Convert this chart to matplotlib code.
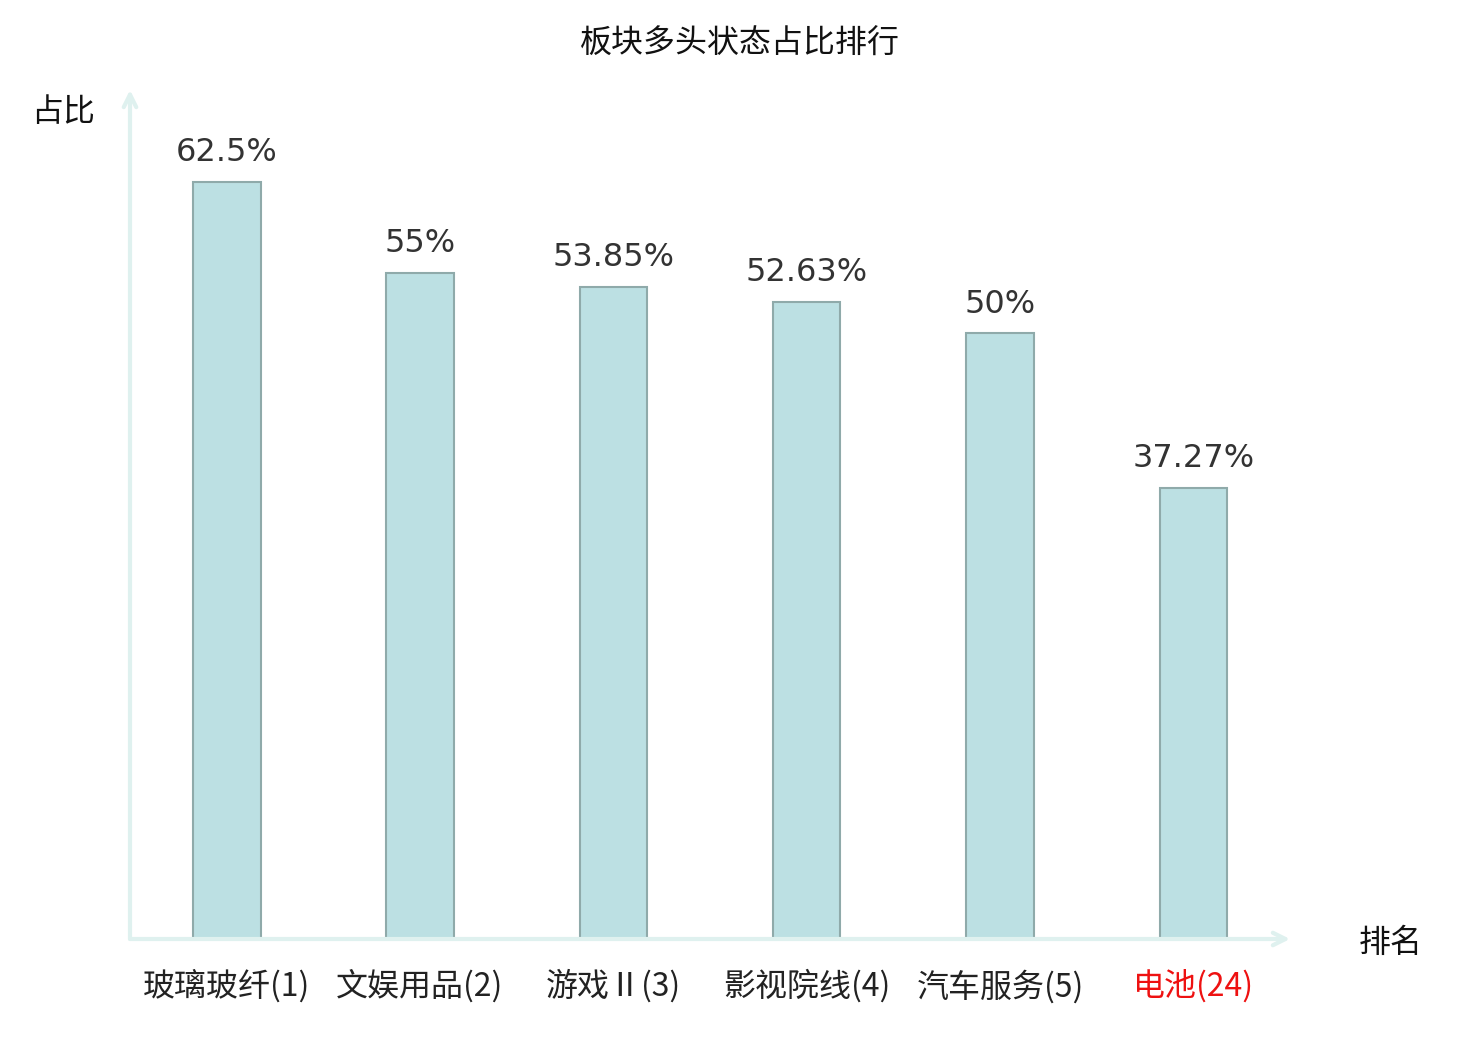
import matplotlib
matplotlib.use("Agg")
import matplotlib.pyplot as plt

plt.rcParams['font.family'] = ['Noto Sans CJK SC', 'DejaVu Sans']

categories = ["玻璃玻纤(1)", "文娱用品(2)", "游戏Ⅱ(3)", "影视院线(4)", "汽车服务(5)", "电池(24)"]
values = [62.5, 55, 53.85, 52.63, 50, 37.27]
value_labels = ["62.5%", "55%", "53.85%", "52.63%", "50%", "37.27%"]
label_colors = ["#222222", "#222222", "#222222", "#222222", "#222222", "#ee1111"]

fig = plt.figure(figsize=(14.8, 10.4), dpi=100)
W, H = 1480, 1040
left, right, bottom, top = 130, 1290, 939, 90
ax = fig.add_axes([left / W, 1 - bottom / H, (right - left) / W, (bottom - top) / H])

x = list(range(len(categories)))
ax.bar(x, values, width=0.35, color="#bce0e3", edgecolor="#8faaaa", linewidth=1.5, zorder=2)
ax.set_xlim(-0.5, 5.5)
ax.set_ylim(0, 70.1)

for xi, v, lab in zip(x, values, value_labels):
    ax.annotate(lab, (xi, v), xytext=(0, 10), textcoords="offset points",
                ha="center", va="bottom", fontsize=23, color="#333333",
                family="DejaVu Sans")

for s in ax.spines.values():
    s.set_visible(False)
ax.set_yticks([])
ax.set_xticks(x)
ax.set_xticklabels(categories, fontsize=23, fontweight="light")
for t, c in zip(ax.get_xticklabels(), label_colors):
    t.set_color(c)
ax.tick_params(axis="x", length=0, pad=22)

axis_color = "#dff1ef"
arrow = dict(arrowstyle="->,head_length=0.9,head_width=0.45",
             color=axis_color, lw=3, shrinkA=0, shrinkB=0)
ax.annotate("", xy=(1.0, 0), xytext=(0, 0), xycoords="axes fraction",
            arrowprops=arrow, annotation_clip=False)
ax.annotate("", xy=(0, 1.0), xytext=(0, 0), xycoords="axes fraction",
            arrowprops=arrow, annotation_clip=False)

fig.text(740 / W, 1 - 44 / H, "板块多头状态占比排行", ha="center", va="center", fontsize=23, color="#111111")
fig.text(63 / W, 1 - 112 / H, "占比", ha="center", va="center", fontsize=23, color="#111111")
fig.text(1391 / W, 1 - 943 / H, "排名", ha="center", va="center", fontsize=23, color="#111111")

fig.savefig("out.png", dpi=100)
